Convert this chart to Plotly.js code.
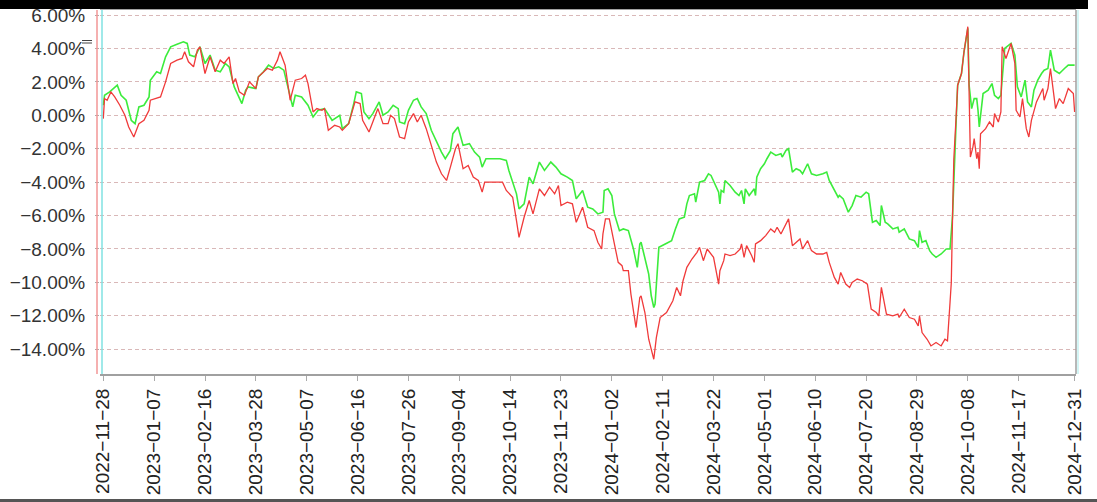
<!DOCTYPE html>
<html>
<head>
<meta charset="utf-8">
<script src="https://cdn.plot.ly/plotly-3.0.1.min.js"></script>
<style>
html,body{margin:0;padding:0;background:#fff;}
#chart{width:1097px;height:502px;}
</style>
</head>
<body>
<div id="chart"></div>
<script>
const greenDates = [
"2022-11-28","2022-11-29","2022-12-03","2022-12-09","2022-12-12","2022-12-16","2022-12-20","2022-12-23","2022-12-26","2022-12-30",
"2023-01-03","2023-01-04","2023-01-09","2023-01-12","2023-01-16","2023-01-20","2023-01-25","2023-01-30","2023-02-02","2023-02-04",
"2023-02-08","2023-02-12","2023-02-16","2023-02-20","2023-02-24","2023-02-28","2023-03-04","2023-03-07","2023-03-11","2023-03-14",
"2023-03-17","2023-03-20","2023-03-22","2023-03-28","2023-03-30","2023-04-03","2023-04-07","2023-04-11","2023-04-15","2023-04-19",
"2023-04-22","2023-04-26","2023-04-28","2023-05-03","2023-05-08","2023-05-12","2023-05-16","2023-05-21","2023-05-27","2023-06-02",
"2023-06-04","2023-06-09","2023-06-13","2023-06-15","2023-06-19","2023-06-21","2023-06-25","2023-06-28","2023-07-03","2023-07-06",
"2023-07-10","2023-07-14","2023-07-18","2023-07-19","2023-07-23","2023-07-26","2023-07-30","2023-08-02","2023-08-05","2023-08-09",
"2023-08-13","2023-08-17","2023-08-21","2023-08-24","2023-08-28","2023-08-30","2023-09-03","2023-09-07","2023-09-12","2023-09-16",
"2023-09-20","2023-09-22","2023-09-25","2023-09-30","2023-10-06","2023-10-11","2023-10-13","2023-10-19","2023-10-21","2023-10-25",
"2023-10-29","2023-11-01","2023-11-06","2023-11-10","2023-11-15","2023-11-19","2023-11-23","2023-11-28","2023-12-02","2023-12-05",
"2023-12-10","2023-12-14","2023-12-18","2023-12-22","2023-12-26","2023-12-27","2023-12-30","2024-01-02","2024-01-04","2024-01-08",
"2024-01-11","2024-01-15","2024-01-18","2024-01-19","2024-01-22","2024-01-24","2024-01-25","2024-01-28","2024-01-31","2024-02-02",
"2024-02-04","2024-02-05","2024-02-08","2024-02-13","2024-02-18","2024-02-21","2024-02-24","2024-02-28","2024-03-01","2024-03-03",
"2024-03-07","2024-03-08","2024-03-11","2024-03-15","2024-03-18","2024-03-20","2024-03-23","2024-03-26","2024-03-27","2024-03-28",
"2024-03-30","2024-03-31","2024-04-04","2024-04-08","2024-04-11","2024-04-13","2024-04-15","2024-04-16","2024-04-19","2024-04-23",
"2024-04-24","2024-04-25","2024-04-28","2024-05-01","2024-05-03","2024-05-06","2024-05-10","2024-05-14","2024-05-15","2024-05-18",
"2024-05-20","2024-05-23","2024-05-26","2024-05-29","2024-05-31","2024-06-04","2024-06-07","2024-06-11","2024-06-16","2024-06-19",
"2024-06-21","2024-06-25","2024-06-28","2024-06-29","2024-07-02","2024-07-06","2024-07-09","2024-07-12","2024-07-16","2024-07-20",
"2024-07-22","2024-07-25","2024-07-28","2024-07-31","2024-08-01","2024-08-04","2024-08-06","2024-08-10","2024-08-14","2024-08-15",
"2024-08-19","2024-08-23","2024-08-27","2024-08-30","2024-08-31","2024-09-02","2024-09-05","2024-09-08","2024-09-10","2024-09-13",
"2024-09-17","2024-09-21","2024-09-24","2024-09-26","2024-09-27","2024-09-29","2024-09-30","2024-10-03","2024-10-05","2024-10-08",
"2024-10-09","2024-10-11","2024-10-13","2024-10-15","2024-10-16","2024-10-17","2024-10-20","2024-10-24","2024-10-27","2024-10-29",
"2024-11-01","2024-11-03","2024-11-06","2024-11-08","2024-11-11","2024-11-14","2024-11-16","2024-11-19","2024-11-22","2024-11-24",
"2024-11-27","2024-11-29","2024-12-02","2024-12-05","2024-12-07","2024-12-10","2024-12-12","2024-12-15","2024-12-19","2024-12-23",
"2024-12-26","2024-12-31"
];
const greenValues = [
0.6,1.2,1.4,1.8,1.2,0.9,-0.3,-0.5,0.5,0.6,
1.1,2.1,2.6,2.5,3.5,4.1,4.25,4.4,4.3,3.6,
3.5,4.1,3.1,3.6,2.7,2.6,3.1,2.9,1.7,1.2,
0.7,1.5,1.7,1.6,2.3,2.6,3.0,2.8,2.9,2.7,
1.7,0.5,1.2,1.1,0.6,-0.1,0.3,0.4,-0.3,0.0,
-0.8,-0.5,0.7,1.4,1.3,0.2,-0.2,0.1,0.8,0.0,
0.2,0.6,0.4,-0.4,-0.5,0.3,0.9,1.0,0.5,0.1,
-0.9,-1.6,-2.2,-2.6,-2.1,-1.1,-0.7,-1.8,-1.7,-2.2,
-2.5,-3.1,-2.6,-2.6,-2.6,-2.7,-3.3,-4.7,-5.6,-5.3,
-3.7,-4.1,-2.8,-3.3,-2.8,-3.1,-3.5,-3.7,-3.9,-5.0,
-4.5,-5.5,-5.6,-5.9,-5.8,-4.5,-4.4,-4.8,-5.9,-6.9,
-6.8,-6.9,-7.7,-8.0,-9.1,-7.7,-7.6,-8.5,-9.5,-10.8,
-11.5,-11.3,-7.9,-7.7,-7.5,-6.8,-6.2,-6.1,-5.3,-4.8,
-4.7,-5.2,-4.0,-3.9,-3.5,-3.6,-4.1,-4.6,-5.3,-4.5,
-4.6,-3.9,-4.2,-4.6,-4.8,-4.5,-5.3,-4.4,-4.8,-4.4,
-4.8,-3.7,-3.2,-2.9,-2.6,-2.2,-2.4,-2.3,-2.5,-2.1,
-2.0,-3.4,-3.2,-3.3,-3.5,-2.9,-3.5,-3.6,-3.5,-3.4,
-3.9,-4.5,-4.9,-4.8,-5.0,-5.8,-5.4,-4.8,-4.9,-4.6,
-4.7,-6.4,-6.3,-6.6,-5.4,-6.4,-6.5,-6.8,-6.7,-7.0,
-6.8,-7.4,-7.5,-7.9,-6.9,-7.6,-7.5,-8.1,-8.3,-8.5,
-8.3,-8.0,-8.0,-6.0,-3.6,0.0,1.8,2.5,3.8,5.2,
1.8,0.4,1.0,1.0,0.3,-0.7,1.3,1.5,1.9,1.2,
1.0,1.2,4.0,4.1,4.3,3.6,1.7,1.1,2.1,0.8,
0.5,1.5,2.1,2.5,2.7,2.8,3.9,2.7,2.5,2.8,
3.0,3.0
];

const redDates = [
"2022-11-28","2022-11-29","2022-12-01","2022-12-04","2022-12-07","2022-12-11","2022-12-15","2022-12-18","2022-12-22","2022-12-26",
"2022-12-30","2023-01-03","2023-01-04","2023-01-08","2023-01-12","2023-01-16","2023-01-20","2023-01-25","2023-01-29","2023-01-31",
"2023-02-03","2023-02-07","2023-02-10","2023-02-12","2023-02-16","2023-02-20","2023-02-24","2023-02-28","2023-03-03","2023-03-07",
"2023-03-10","2023-03-12","2023-03-15","2023-03-19","2023-03-23","2023-03-28","2023-03-30","2023-04-06","2023-04-10","2023-04-14",
"2023-04-16","2023-04-20","2023-04-24","2023-04-28","2023-05-03","2023-05-06","2023-05-08","2023-05-12","2023-05-15","2023-05-19",
"2023-05-21","2023-05-24","2023-05-29","2023-06-02","2023-06-04","2023-06-09","2023-06-14","2023-06-18","2023-06-20","2023-06-25",
"2023-06-28","2023-07-02","2023-07-06","2023-07-10","2023-07-12","2023-07-15","2023-07-19","2023-07-23","2023-07-26","2023-07-30",
"2023-08-02","2023-08-05","2023-08-09","2023-08-13","2023-08-17","2023-08-21","2023-08-25","2023-08-28","2023-09-01","2023-09-03",
"2023-09-07","2023-09-11","2023-09-15","2023-09-19","2023-09-22","2023-09-24","2023-09-30","2023-10-08","2023-10-11","2023-10-16",
"2023-10-19","2023-10-21","2023-10-25","2023-10-29","2023-11-01","2023-11-06","2023-11-10","2023-11-14","2023-11-18","2023-11-21",
"2023-11-23","2023-11-28","2023-12-02","2023-12-05","2023-12-10","2023-12-14","2023-12-19","2023-12-22","2023-12-25","2023-12-26",
"2023-12-28","2023-12-31","2024-01-04","2024-01-07","2024-01-10","2024-01-11","2024-01-15","2024-01-17","2024-01-21","2024-01-24",
"2024-01-25","2024-01-28","2024-01-31","2024-02-02","2024-02-04","2024-02-06","2024-02-09","2024-02-14","2024-02-19","2024-02-22",
"2024-02-25","2024-02-27","2024-03-01","2024-03-05","2024-03-09","2024-03-11","2024-03-14","2024-03-17","2024-03-19","2024-03-22",
"2024-03-26","2024-03-27","2024-03-30","2024-03-31","2024-04-04","2024-04-08","2024-04-12","2024-04-13","2024-04-15","2024-04-17",
"2024-04-21","2024-04-23","2024-04-24","2024-04-28","2024-05-02","2024-05-06","2024-05-09","2024-05-11","2024-05-14","2024-05-17",
"2024-05-20","2024-05-23","2024-05-26","2024-05-29","2024-05-31","2024-06-04","2024-06-07","2024-06-11","2024-06-16","2024-06-19",
"2024-06-21","2024-06-25","2024-06-28","2024-06-30","2024-07-04","2024-07-07","2024-07-09","2024-07-13","2024-07-17","2024-07-21",
"2024-07-24","2024-07-28","2024-07-30","2024-08-01","2024-08-05","2024-08-10","2024-08-14","2024-08-15","2024-08-19","2024-08-23",
"2024-08-27","2024-08-30","2024-08-31","2024-09-02","2024-09-06","2024-09-09","2024-09-13","2024-09-17","2024-09-20","2024-09-22",
"2024-09-24","2024-09-25","2024-09-26","2024-09-27","2024-09-29","2024-09-30","2024-10-03","2024-10-05","2024-10-08","2024-10-09",
"2024-10-10","2024-10-12","2024-10-13","2024-10-15","2024-10-16","2024-10-17","2024-10-18","2024-10-22","2024-10-25","2024-10-28",
"2024-10-29","2024-11-01","2024-11-03","2024-11-04","2024-11-07","2024-11-11","2024-11-14","2024-11-15","2024-11-18","2024-11-20",
"2024-11-23","2024-11-25","2024-11-27","2024-12-01","2024-12-03","2024-12-06","2024-12-07","2024-12-10","2024-12-12","2024-12-14",
"2024-12-16","2024-12-19","2024-12-22","2024-12-26","2024-12-30","2024-12-31"
];
const redValues = [
-0.2,1.0,0.9,1.4,1.1,0.6,0.0,-0.7,-1.3,-0.5,
-0.3,0.3,0.9,1.0,1.1,2.0,3.1,3.3,3.4,3.8,
3.2,2.9,3.9,4.1,2.5,3.5,2.6,3.3,3.1,3.5,
1.9,2.2,1.4,1.2,2.0,1.6,2.3,2.8,2.7,3.3,
3.8,3.0,0.9,2.1,2.2,2.4,1.9,0.2,0.4,0.3,
0.4,-0.9,-0.6,-0.7,-0.9,-0.5,0.8,0.7,-0.3,-1.0,
-0.4,0.4,-0.5,-0.5,0.0,-0.2,-1.3,-1.4,-0.4,0.1,
-0.4,0.0,-0.8,-1.8,-2.8,-3.5,-3.9,-3.1,-2.0,-1.7,
-3.2,-3.0,-3.7,-3.9,-4.6,-4.0,-4.0,-4.0,-4.5,-4.9,
-6.3,-7.3,-6.1,-5.1,-5.9,-4.4,-4.8,-4.3,-4.7,-4.2,
-5.4,-5.2,-5.3,-6.4,-5.5,-6.7,-6.9,-7.6,-8.0,-7.1,
-6.2,-6.2,-7.7,-8.8,-9.0,-9.3,-9.3,-10.7,-12.7,-10.9,
-10.8,-11.8,-13.4,-14.1,-14.6,-13.3,-12.1,-11.8,-11.1,-10.3,
-10.8,-9.9,-9.1,-8.6,-8.2,-7.9,-8.7,-8.0,-8.2,-8.5,
-10.1,-9.3,-8.7,-8.3,-8.4,-8.3,-8.0,-7.7,-8.5,-7.8,
-8.4,-8.8,-7.7,-7.5,-7.2,-6.8,-7.0,-6.7,-7.1,-6.6,
-6.2,-7.8,-7.6,-7.4,-8.0,-7.5,-8.1,-8.3,-8.3,-8.2,
-8.8,-9.7,-10.1,-9.4,-10.1,-10.3,-10.0,-9.8,-9.9,-10.1,
-11.6,-11.8,-12.0,-10.3,-11.9,-12.0,-11.9,-12.1,-11.6,-12.1,
-12.2,-12.6,-12.0,-13.0,-13.4,-13.8,-13.6,-13.8,-13.4,-13.5,
-11.2,-10.0,-6.0,-2.6,0.2,1.8,2.5,3.8,5.3,0.0,
-2.5,-1.9,-1.4,-2.6,-2.2,-3.2,-1.1,-0.8,-0.4,-0.7,
0.1,-0.4,0.2,4.1,3.4,4.3,3.1,0.3,-0.1,1.0,
-0.8,-1.3,-0.3,0.8,1.1,1.6,0.9,1.6,2.8,1.5,
0.4,1.0,0.7,1.6,1.3,0.2
];

const xTickDates = ["2022-11-28","2023-01-07","2023-02-16","2023-03-28","2023-05-07","2023-06-16","2023-07-26","2023-09-04","2023-10-14","2023-11-23",
"2024-01-02","2024-02-11","2024-03-22","2024-05-01","2024-06-10","2024-07-20","2024-08-29","2024-10-08","2024-11-17","2024-12-31"];
const xTickLabels = xTickDates.map(d => d.replace(/-/g, "\u2212"));
const yTickValues = [6,4,2,0,-2,-4,-6,-8,-10,-12,-14];
const yTickLabels = ["6.00%","4.00%","2.00%","0.00%","\u22122.00%","\u22124.00%","\u22126.00%","\u22128.00%","\u221210.00%","\u221212.00%","\u221214.00%"];

const L = 100, T = 10, W = 976, H = 364;
const px = v => (v - L) / W;
const py = v => (T + H - v) / H;

const traces = [
  {x: greenDates, y: greenValues, type: "scatter", mode: "lines",
   line: {color: "#3cec3c", width: 1.6}, hoverinfo: "skip"},
  {x: redDates, y: redValues, type: "scatter", mode: "lines",
   line: {color: "#f03a3a", width: 1.3}, hoverinfo: "skip"}
];

const fontFam = "Liberation Sans, Arial, sans-serif";
const layout = {
  width: 1097, height: 502,
  margin: {l: L, r: 1097 - L - W, t: T, b: 502 - T - H, pad: 0},
  paper_bgcolor: "#ffffff", plot_bgcolor: "#ffffff",
  showlegend: false,
  xaxis: {
    type: "date",
    range: ["2022-11-25 10:00", "2025-01-01 02:00"],
    tickmode: "array", tickvals: xTickDates, ticktext: xTickLabels,
    tickangle: -90,
    tickfont: {family: fontFam, size: 19, color: "#222"},
    ticks: "outside", ticklen: 5, tickcolor: "#aaa", tickwidth: 1,
    showgrid: false, zeroline: false,
    showline: true, linecolor: "#a0a0a0", linewidth: 2, mirror: true,
    fixedrange: true
  },
  yaxis: {
    range: [-15.48, 6.30],
    tickmode: "array", tickvals: yTickValues, ticktext: yTickLabels,
    tickfont: {family: fontFam, size: 19, color: "#333"},
    ticks: "outside", ticklen: 4, tickcolor: "#aaa",
    ticklabelstandoff: 6,
    showgrid: true, gridcolor: "#d9b8b8", gridwidth: 1, griddash: "4px,3px",
    zeroline: false, showline: false,
    fixedrange: true
  },
  shapes: [
    {type: "rect", xref: "paper", yref: "paper", x0: px(0), x1: px(1088), y0: py(9), y1: py(0),
     fillcolor: "#000", line: {width: 0}},
    {type: "rect", xref: "paper", yref: "paper", x0: px(0), x1: px(1097), y0: py(502), y1: py(499),
     fillcolor: "#555", line: {width: 0}},
    {type: "line", xref: "paper", yref: "paper", x0: px(97), x1: px(97), y0: py(374), y1: py(10),
     line: {color: "#f29696", width: 1.5}},
    {type: "line", xref: "paper", yref: "paper", x0: px(102), x1: px(102), y0: py(374), y1: py(10),
     line: {color: "#80e2e2", width: 1.5}},
    {type: "line", xref: "paper", yref: "paper", x0: px(1076), x1: px(1076), y0: py(374), y1: py(10),
     line: {color: "#a0a0a0", width: 1.5}},
    {type: "line", xref: "paper", yref: "paper", x0: px(1078), x1: px(1078), y0: py(374), y1: py(10),
     line: {color: "#a8ecec", width: 1}},
    {type: "line", xref: "paper", yref: "paper", x0: px(82), x1: px(92), y0: py(40.5), y1: py(40.5),
     line: {color: "#444", width: 1}},
    {type: "line", xref: "paper", yref: "paper", x0: px(82), x1: px(92), y0: py(43), y1: py(43),
     line: {color: "#444", width: 1}}
  ]
};

Plotly.newPlot("chart", traces, layout, {displayModeBar: false, staticPlot: true});
</script>
</body>
</html>
